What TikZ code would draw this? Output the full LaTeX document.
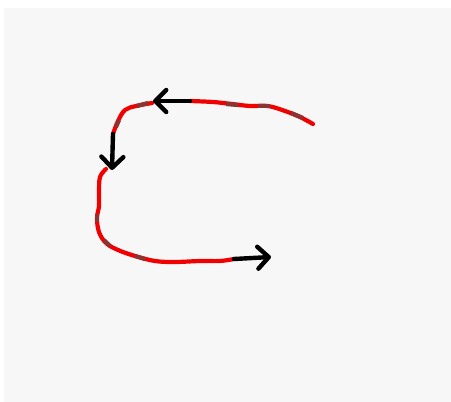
\documentclass[tikz,border=0pt]{standalone}
\usepackage{xcolor}
\definecolor{sheetGray}{HTML}{F7F7F7}
\definecolor{inkRed}{HTML}{F00000}
\definecolor{inkDark}{HTML}{8A3434}
\usetikzlibrary{arrows.meta}

\begin{document}
\begin{tikzpicture}[
    x=1pt, y=-1pt,
    sheet/.style={fill=sheetGray, draw=none},
    stroke/.style={inkRed, line width=4.2pt, line cap=round, line join=round},
    darkbit/.style={inkDark, line width=4.2pt, line cap=butt},
    arrow/.style={-{Straight Barb[length=11pt, width=22pt, line cap=round, line join=round]},
                  black, line width=4.4pt, line cap=round}
]
    \useasboundingbox (0,0) rectangle (451,402);
    \fill[sheet] (4,8) rectangle (451,402);

    % stroke ends and arrow tips
    \coordinate (tail)  at (313,124);
    \coordinate (topA)  at (190,101);
    \coordinate (topB)  at (153,101);
    \coordinate (sideA) at (113,134);
    \coordinate (sideB) at (112,170);
    \coordinate (botA)  at (234,259);
    \coordinate (botB)  at (271,257);

    % red hand-drawn stroke
    \draw[stroke] plot[smooth, tension=0.6] coordinates {
        (tail) (300,117) (285,111) (268,106) (250,106) (232,104) (213,102) (topA)};
    \draw[stroke] plot[smooth, tension=0.6] coordinates {
        (152,103) (136,106) (125,110) (118,121) (sideA)};
    \draw[stroke] plot[smooth, tension=0.6] coordinates {
        (106,169) (100,177) (99,192) (99,206) (97,218) (99,232) (106,243)
        (118,250) (135,256) (155,261) (175,262) (200,261) (220,261) (botA)};

    % darker patches in the stroke
    \draw[darkbit] (226,104) -- (238,105);
    \draw[darkbit] (258,106) -- (270,106);
    \draw[darkbit] (291,113) -- (303,118);
    \draw[darkbit] (137,106) -- (148,103);
    \draw[darkbit] (119,120) -- (116,127);
    \draw[darkbit] (97,214) -- (97,222);
    \draw[darkbit] (104,240) -- (110,246);
    \draw[darkbit] (135,256) -- (145,259);

    % arrows
    \draw[arrow] (topA) -- (topB);
    \draw[arrow] (sideA) -- (sideB);
    \draw[arrow] (botA) -- (botB);
\end{tikzpicture}
\end{document}
